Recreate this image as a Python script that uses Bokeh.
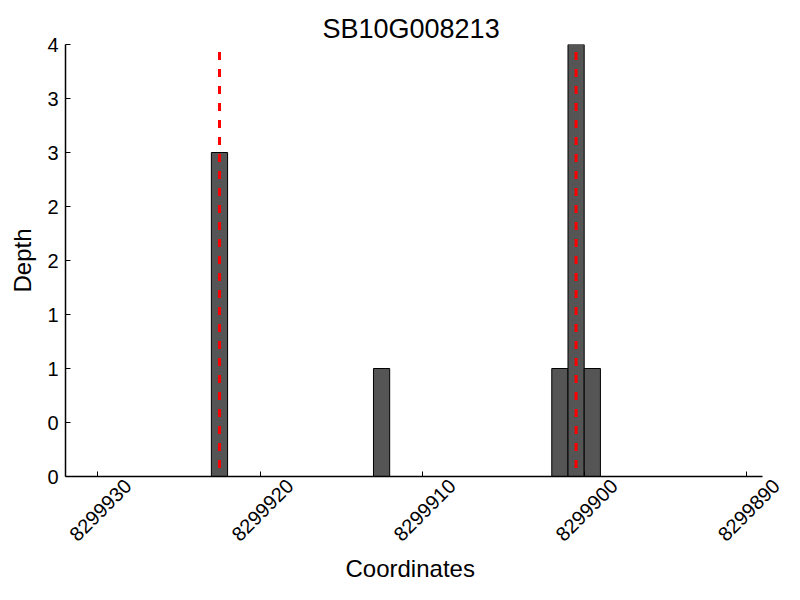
import math
from bokeh.plotting import figure
from bokeh.models import Range1d, FixedTicker, ColumnDataSource, LinearAxis, Title
from bokeh.embed import file_html
from bokeh.resources import INLINE

title_text = "SB10G008213"
x_label = "Coordinates"
y_label = "Depth"

# histogram bins (lower coordinate of each 1-bp bin) and depth
bin_start = [8299922, 8299912, 8299901, 8299900, 8299899]
bin_width = 1
depth = [3, 1, 1, 4, 1]

# red dashed marker positions
marker_x = [8299922.5, 8299900.5]
marker_top = [3.93, 3.93]

x_ticks = [8299930, 8299920, 8299910, 8299900, 8299890]
x_tick_labels = ["8299930", "8299920", "8299910", "8299900", "8299890"]
y_ticks = [0, 0.5, 1, 1.5, 2, 2.5, 3, 3.5, 4]
y_tick_labels = ["0", "0", "1", "1", "2", "2", "3", "3", "4"]

FONT = "Liberation Sans"
X_START, X_END = 8299932, 8299889     # visible axis extent
Y_START, Y_END = 0, 4
FRAME_W, FRAME_H = 697, 432           # visible axes box in px
EXTRA_PX = 22                          # room to the right for the last rotated label
TICK_IN = 5
LABEL_SHIFT_PX = 30                    # rotated labels are anchored at their end

units_per_px_x = (X_START - X_END) / FRAME_W
x_end_ext = X_END - EXTRA_PX * units_per_px_x

p = figure(frame_width=FRAME_W + EXTRA_PX, frame_height=FRAME_H, output_backend="svg",
           toolbar_location=None,
           x_range=Range1d(X_START, x_end_ext), y_range=Range1d(Y_START, Y_END),
           min_border_left=65, min_border_right=0, min_border_top=44, min_border_bottom=100)
p.title.text = title_text
p.title.align = "left"
p.title.offset = 257
p.title.text_font = FONT
p.title.text_font_size = "27px"
p.title.text_font_style = "normal"
p.title.text_color = "black"
p.title.standoff = 2

p.xgrid.visible = False
p.ygrid.visible = False
p.outline_line_color = None

src = ColumnDataSource(dict(left=bin_start, right=[b + bin_width for b in bin_start], top=depth,
                            bottom=[0] * len(depth)))
p.quad(left="left", right="right", top="top", bottom="bottom", source=src,
       fill_color="#555555", line_color="black", line_width=1)

msrc = ColumnDataSource(dict(x=marker_x, top=marker_top, bottom=[0] * len(marker_x)))
p.segment(x0="x", y0="top", x1="x", y1="bottom", source=msrc,
          line_color="red", line_width=3, line_dash="8 9")

def style(ax):
    ax.major_tick_in = TICK_IN
    ax.major_tick_out = 0
    ax.minor_tick_line_color = None
    ax.axis_line_color = "black"
    ax.axis_line_width = 1.5
    ax.major_tick_line_color = "black"
    ax.major_label_text_font = FONT
    ax.major_label_text_font_size = "20px"
    ax.major_label_text_color = "black"
    ax.axis_label_text_font = FONT
    ax.axis_label_text_font_size = "24px"
    ax.axis_label_text_font_style = "normal"
    ax.axis_label_text_color = "black"

# bottom spine and inward ticks, limited to the visible extent
xa = p.xaxis[0]
style(xa)
xa.bounds = (X_END, X_START)
xa.ticker = FixedTicker(ticks=x_ticks)
xa.major_label_overrides = {t: "" for t in x_ticks}
xa.major_label_text_font_size = "0px"
xa.major_label_standoff = 0

# rotated tick labels, centred under their ticks
label_pos = [t - LABEL_SHIFT_PX * units_per_px_x for t in x_ticks]
xb = LinearAxis()
style(xb)
xb.ticker = FixedTicker(ticks=label_pos)
xb.major_label_overrides = {pos: lab for pos, lab in zip(label_pos, x_tick_labels)}
xb.axis_line_color = None
xb.major_tick_line_color = None
xb.major_label_orientation = math.pi / 4
xb.major_label_standoff = 6
p.add_layout(xb, "below")

# x-axis title, centred on the visible axes box
xt = Title(text=x_label, align="left", offset=280, text_font=FONT, text_font_size="24px",
           text_font_style="normal", text_color="black", standoff=4)
p.add_layout(xt, "below")

ya = p.yaxis[0]
style(ya)
ya.ticker = FixedTicker(ticks=y_ticks)
ya.major_label_overrides = {t: l for t, l in zip(y_ticks, y_tick_labels)}
ya.axis_label = y_label
ya.major_label_standoff = 7
ya.axis_label_standoff = 8

open("out.html", "w").write(file_html(p, INLINE))
